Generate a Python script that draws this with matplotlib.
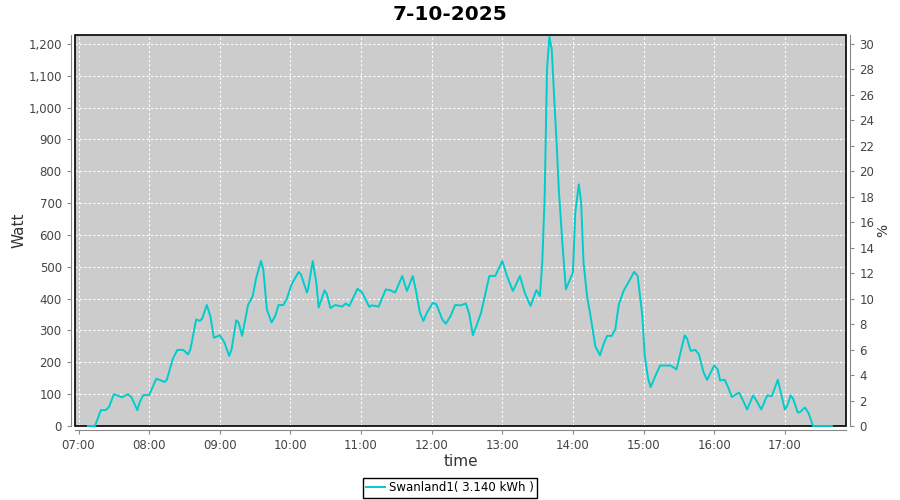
import matplotlib
matplotlib.use("Agg")
import matplotlib.pyplot as plt
from matplotlib.patches import Rectangle
from matplotlib.ticker import FuncFormatter, MultipleLocator

# readings: time of day and power in watt
times = [
    "07:08", "07:14", "07:19", "07:23", "07:26", "07:30", "07:37", "07:42", "07:45", "07:50",
    "07:52", "07:55", "08:00", "08:06", "08:09", "08:13", "08:15", "08:20", "08:24", "08:29",
    "08:33", "08:35", "08:40", "08:43", "08:45", "08:49", "08:52", "08:55", "09:00", "09:04",
    "09:08", "09:10", "09:14", "09:16", "09:19", "09:24", "09:28", "09:31", "09:35", "09:37",
    "09:40", "09:44", "09:47", "09:50", "09:54", "09:57", "10:01", "10:07", "10:09", "10:14",
    "10:15", "10:19", "10:22", "10:24", "10:29", "10:31", "10:34", "10:38", "10:44", "10:47",
    "10:50", "10:57", "11:01", "11:07", "11:09", "11:15", "11:21", "11:25", "11:29", "11:35",
    "11:39", "11:44", "11:47", "11:50", "11:53", "11:56", "12:01", "12:04", "12:09", "12:12",
    "12:16", "12:20", "12:25", "12:29", "12:32", "12:35", "12:38", "12:42", "12:49", "12:54",
    "13:00", "13:04", "13:09", "13:15", "13:19", "13:24", "13:29", "13:32", "13:34", "13:36",
    "13:38", "13:40", "13:42", "13:44", "13:46", "13:48", "13:51", "13:54", "14:00", "14:02",
    "14:05", "14:07", "14:09", "14:12", "14:15", "14:19", "14:23", "14:26", "14:29", "14:33",
    "14:36", "14:39", "14:43", "14:47", "14:52", "14:55", "14:59", "15:01", "15:04", "15:06",
    "15:10", "15:14", "15:23", "15:28", "15:31", "15:35", "15:37", "15:40", "15:44", "15:47",
    "15:51", "15:54", "16:00", "16:03", "16:05", "16:09", "16:12", "16:15", "16:21", "16:24",
    "16:28", "16:33", "16:36", "16:40", "16:45", "16:49", "16:54", "16:56", "17:00", "17:02",
    "17:05", "17:07", "17:11", "17:13", "17:17", "17:20", "17:24", "17:28", "17:40",
]
watt = [
    0, 0, 50, 50, 60, 100, 90, 100, 90, 50,
    75, 97, 97, 148, 145, 138, 145, 210, 239, 239,
    225, 240, 335, 330, 337, 380, 345, 277, 285, 262,
    220, 240, 332, 325, 283, 380, 408, 466, 518, 492,
    366, 325, 345, 380, 380, 400, 445, 484, 476, 419,
    430, 518, 450, 372, 426, 414, 370, 380, 375, 385,
    377, 431, 419, 374, 379, 375, 429, 426, 419, 471,
    424, 471, 419, 356, 330, 356, 387, 382, 335, 321,
    345, 380, 379, 385, 351, 285, 314, 356, 471, 471,
    518, 471, 424, 471, 419, 377, 427, 408, 518, 723,
    1120, 1223, 1183, 1037, 900, 743, 576, 429, 482, 670,
    759, 702, 513, 408, 345, 251, 222, 257, 283, 283,
    304, 382, 424, 450, 484, 471, 345, 220, 147, 122,
    157, 190, 190, 178, 225, 285, 274, 236, 239, 225,
    168, 145, 190, 178, 143, 145, 120, 91, 105, 84,
    52, 96, 79, 52, 96, 94, 145, 115, 52, 63,
    96, 86, 42, 44, 58, 42, 0, 0, 0,
]
hour_ticks = list(range(7, 18))
series_label = "Swanland1( 3.140 kWh )"

hours = [int(t[:2]) + int(t[3:]) / 60 for t in times]

fig = plt.figure(figsize=(9, 5), dpi=100)
ax = fig.add_axes([0.0833, 0.148, 0.857, 0.782])
ax.set_facecolor("#cccccc")

ax.plot(hours, watt, color="#00cccc", linewidth=1.4, label=series_label,
        zorder=6, clip_on=False)

ax.set_xlim(6.95, 17.87)
ax.set_ylim(0, 1228)
ax.set_xticks(hour_ticks)
ax.set_xticklabels(["%02d:00" % h for h in hour_ticks])
ax.yaxis.set_major_locator(MultipleLocator(100))
ax.yaxis.set_major_formatter(FuncFormatter(lambda v, p: "{:,.0f}".format(v)))
ax.grid(True, color="white", linestyle=(0, (2, 2)), linewidth=0.8)
ax.set_axisbelow(True)

for s in ["top", "right"]:
    ax.spines[s].set_visible(False)
for s in ["left", "bottom"]:
    ax.spines[s].set_position(("outward", 3))
    ax.spines[s].set_color("#888888")
ax.add_patch(Rectangle((0, 0), 1, 1, transform=ax.transAxes, fill=False,
                       edgecolor="black", linewidth=1.2, zorder=5, clip_on=False))
ax.tick_params(axis="both", labelsize=8.5, color="#888888", length=3, labelcolor="#444444")

ax2 = ax.twinx()
ax2.set_ylim(0, 1228 / 40)
ax2.yaxis.set_major_locator(MultipleLocator(2))
for s in ["top", "left", "bottom"]:
    ax2.spines[s].set_visible(False)
ax2.spines["right"].set_position(("outward", 3))
ax2.spines["right"].set_color("#888888")
ax2.tick_params(axis="y", labelsize=8.5, color="#888888", length=3, labelcolor="#444444")
ax2.set_ylabel("%", fontsize=10, color="#333333", labelpad=1)

ax.set_xlabel("time", fontsize=11, color="#333333", labelpad=1)
ax.set_ylabel("Watt", fontsize=11, color="#333333", labelpad=1)
fig.suptitle("7-10-2025", fontsize=14.5, fontweight="bold", y=0.99)

fig.legend(loc="center", bbox_to_anchor=(0.5, 0.024), fontsize=8.5, frameon=True,
           fancybox=False, edgecolor="black", framealpha=1, handlelength=1.6,
           borderpad=0.3, handletextpad=0.3)

fig.savefig("out.png", dpi=100)
